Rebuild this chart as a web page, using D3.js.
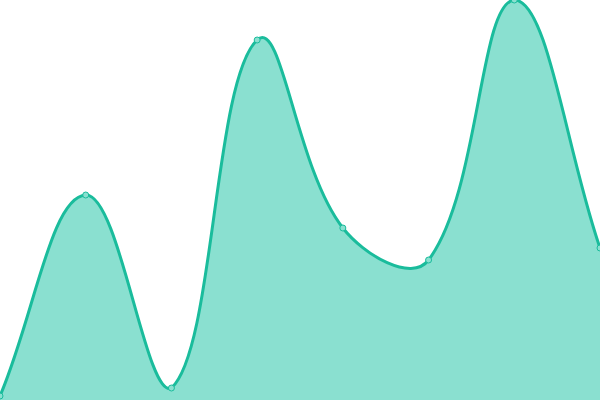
<!DOCTYPE html>
<html>
<head>
<meta charset="utf-8">
<script src="https://cdn.jsdelivr.net/npm/d3@7"></script>
<style>
    html, body { margin: 0; padding: 0; background: #fff; }
    svg { display: block; }
</style>
</head>
<body>
<div id="chart" style="width:600px;height:400px;"></div>
<script>
const labels = ['1', '2', '3', '4', '5', '6', '7', '8'];
const values = [4, 205, 12, 360, 172, 140, 400, 152];
const yDomain = [0, 400];

const element = document.getElementById('chart');
const width = 600;
const height = 400;
const tension = 0.4;

const x = d3.scalePoint()
    .domain(labels)
    .range([0, width]);

const y = d3.scaleLinear()
    .domain(yDomain)
    .range([height, 0]);

const points = labels.map((l, i) => ({x: x(l), y: y(values[i])}));

// distance weighted spline, control points kept inside the plot
function controlPoints(prev, cur, next) {
    const d01 = Math.hypot(cur.x - prev.x, cur.y - prev.y);
    const d12 = Math.hypot(next.x - cur.x, next.y - cur.y);
    const s01 = (d01 + d12) ? d01 / (d01 + d12) : 0;
    const s12 = (d01 + d12) ? d12 / (d01 + d12) : 0;
    const fa = tension * s01;
    const fb = tension * s12;
    const clampX = v => Math.max(0, Math.min(width, v));
    const clampY = v => Math.max(0, Math.min(height, v));
    return {
        prev: {x: clampX(cur.x - fa * (next.x - prev.x)), y: clampY(cur.y - fa * (next.y - prev.y))},
        next: {x: clampX(cur.x + fb * (next.x - prev.x)), y: clampY(cur.y + fb * (next.y - prev.y))}
    };
}

const cps = points.map((p, i) => controlPoints(
    points[Math.max(i - 1, 0)], p, points[Math.min(i + 1, points.length - 1)]));

function splinePath(ctx) {
    ctx.moveTo(points[0].x, points[0].y);
    for (let i = 1; i < points.length; i++) {
        const a = cps[i - 1].next;
        const b = cps[i].prev;
        ctx.bezierCurveTo(a.x, a.y, b.x, b.y, points[i].x, points[i].y);
    }
    return ctx;
}

const linePath = splinePath(d3.path());
const areaPath = splinePath(d3.path());
areaPath.lineTo(points[points.length - 1].x, y(0));
areaPath.lineTo(points[0].x, y(0));
areaPath.closePath();

const svg = d3.select(element)
    .append('svg')
    .attr('width', width)
    .attr('height', height);

svg.append('path')
    .attr('fill', '#8ae0d0')
    .attr('d', areaPath.toString());

svg.append('path')
    .attr('fill', 'none')
    .attr('stroke', '#1abc9c')
    .attr('stroke-width', 3)
    .attr('stroke-linejoin', 'round')
    .attr('d', linePath.toString());

svg.selectAll('.dot')
    .data(points)
    .enter().append('circle')
    .attr('class', 'dot')
    .attr('cx', d => d.x)
    .attr('cy', d => d.y)
    .attr('r', 3)
    .attr('fill', '#8ae0d0')
    .attr('stroke', '#1abc9c')
    .attr('stroke-width', 1);
</script>
</body>
</html>
